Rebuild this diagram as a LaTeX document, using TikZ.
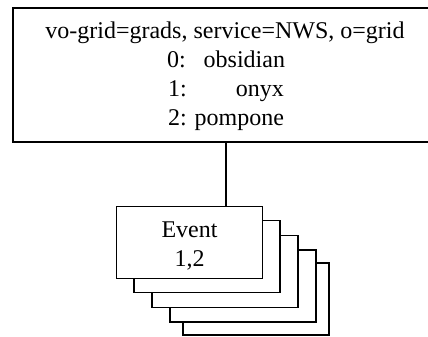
\documentclass[tikz,border=0pt]{standalone}
\usepackage{fontspec}
\setmainfont{Liberation Serif}
\begin{document}
\begin{tikzpicture}[x=1pt,y=-1pt,
  frame/.style={draw=black,line width=1.8pt,fill=white,inner sep=0pt,anchor=center},
  card/.style={frame,minimum width=146pt,minimum height=72pt},
  txt/.style={inner sep=0pt,anchor=base,font=\fontsize{24}{29}\selectfont}]
\useasboundingbox (0,0) rectangle (428,337);
\clip (0,0) rectangle (428,337);

% host box with the grid description
\node[frame,minimum width=426pt,minimum height=134pt] (host) at (226,75) {};
\node[txt] (l1) at (225,38) {vo-grid=grads, service=NWS, o=grid};
\node[txt] (l2) at (226,67) {0:\hspace{18pt}obsidian};
\node[txt] (l3) at (226,96) {1:\hspace{49pt}onyx};
\node[txt] (l4) at (226,125) {2: pompone};

% stack of event cards, back to front
\node[card] (ev5) at (256,299) {};
\node[card] (ev4) at (243,286) {};
\node[card] (ev3) at (225,271.5) {};
\node[card] (ev2) at (207,256.5) {};
\node[card] (ev1) at (189.5,242.5) {};
\node[txt] (e1) at (189.5,237) {Event};
\node[txt] (e2) at (189.5,266) {1,2};

% link from host to the front card
\draw[line width=1.8pt] (host.south) -- (host.south |- ev1.north);
\end{tikzpicture}
\end{document}
